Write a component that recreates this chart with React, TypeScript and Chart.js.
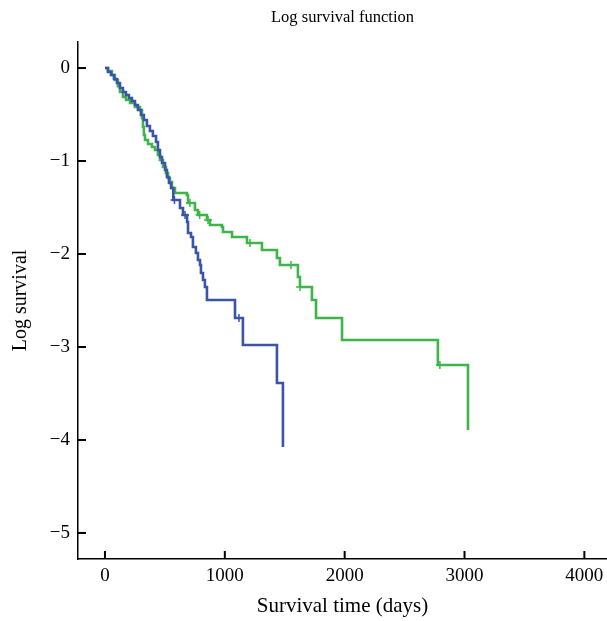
import React, { useEffect, useRef } from "react";
import { Chart, registerables } from "chart.js";

Chart.register(...registerables);

const chartTitle = "Log survival function";
const xTitle = "Survival time (days)";
const yTitle = "Log survival";

const xTicks = [0, 1000, 2000, 3000, 4000];
const yTicks = [0, -1, -2, -3, -4, -5];

// Blue group: step times (days) and log survival after each step
const blueTimes = [0, 25, 50, 75, 100, 125, 150, 175, 200, 225, 250, 275, 300, 325, 350, 375, 400, 426, 442, 459, 476, 501, 517, 534, 551, 570, 626, 651, 685, 693, 718, 734, 759, 776, 793, 801, 818, 834, 851, 1085, 1151, 1435, 1485];
const blueLogSurv = [0, -0.043, -0.075, -0.118, -0.161, -0.215, -0.258, -0.29, -0.323, -0.355, -0.398, -0.452, -0.505, -0.559, -0.624, -0.677, -0.731, -0.796, -0.882, -0.957, -1.022, -1.097, -1.172, -1.237, -1.29, -1.419, -1.505, -1.581, -1.656, -1.774, -1.817, -1.925, -1.989, -2.065, -2.118, -2.204, -2.28, -2.355, -2.495, -2.688, -2.978, -3.387, -4.075];
const blueCensorTimes = [580, 668, 1118];
const blueCensorLogSurv = [-1.419, -1.581, -2.688];

// Green group
const greenTimes = [0, 25, 58, 83, 108, 125, 150, 175, 209, 250, 292, 309, 317, 325, 334, 359, 392, 417, 442, 459, 484, 509, 526, 542, 559, 584, 684, 693, 751, 776, 851, 876, 976, 985, 1060, 1185, 1310, 1435, 1460, 1610, 1627, 1727, 1761, 1978, 2778, 3029];
const greenLogSurv = [0, -0.032, -0.075, -0.129, -0.194, -0.258, -0.312, -0.344, -0.376, -0.419, -0.452, -0.538, -0.634, -0.72, -0.774, -0.817, -0.849, -0.882, -0.935, -0.989, -1.065, -1.129, -1.183, -1.226, -1.29, -1.344, -1.366, -1.452, -1.527, -1.581, -1.634, -1.688, -1.71, -1.763, -1.817, -1.882, -1.957, -2.043, -2.118, -2.247, -2.355, -2.495, -2.688, -2.925, -3.194, -3.892];
const greenCensorTimes = [709, 790, 860, 1210, 1552, 1627, 2795];
const greenCensorLogSurv = [-1.452, -1.581, -1.634, -1.882, -2.118, -2.355, -3.194];

const BLUE = "#3a55a6";
const GREEN = "#3db54a";
const FONT = "'Liberation Serif', 'Times New Roman', serif";

const toPts = (xs: number[], ys: number[]) => xs.map((x, i) => ({ x, y: ys[i] }));
const fmt = (v: number) => (v < 0 ? "\u2212" + Math.abs(v) : String(v));

const decorPlugin = {
  id: "decor",
  afterDraw(chart: any) {
    const { ctx, chartArea, scales } = chart;
    ctx.save();
    ctx.strokeStyle = "#000";
    ctx.lineWidth = 2;
    xTicks.forEach((v) => {
      const x = scales.x.getPixelForValue(v);
      ctx.beginPath();
      ctx.moveTo(x, chartArea.bottom);
      ctx.lineTo(x, chartArea.bottom - 8);
      ctx.stroke();
    });
    yTicks.forEach((v) => {
      const y = scales.y.getPixelForValue(v);
      ctx.beginPath();
      ctx.moveTo(chartArea.left, y);
      ctx.lineTo(chartArea.left + 8, y);
      ctx.stroke();
    });
    ctx.fillStyle = "#000";
    ctx.font = `16.5px ${FONT}`;
    ctx.textAlign = "center";
    ctx.textBaseline = "middle";
    ctx.fillText(chartTitle, (chartArea.left + chartArea.right) / 2, 18);
    ctx.restore();
  },
};

export default function App() {
  const ref = useRef<HTMLCanvasElement | null>(null);
  useEffect(() => {
    if (!ref.current) return;
    const chart = new Chart(ref.current, {
      type: "line",
      data: {
        datasets: [
          {
            data: toPts(blueTimes, blueLogSurv),
            borderColor: BLUE,
            borderWidth: 2.6,
            stepped: "before",
            pointRadius: 0,
            fill: false,
          },
          {
            data: toPts(greenTimes, greenLogSurv),
            borderColor: GREEN,
            borderWidth: 2.6,
            stepped: "before",
            pointRadius: 0,
            fill: false,
          },
          {
            data: toPts(blueCensorTimes, blueCensorLogSurv),
            borderColor: BLUE,
            backgroundColor: BLUE,
            showLine: false,
            pointStyle: "cross",
            pointRadius: 4,
            pointBorderWidth: 1.5,
          },
          {
            data: toPts(greenCensorTimes, greenCensorLogSurv),
            borderColor: GREEN,
            backgroundColor: GREEN,
            showLine: false,
            pointStyle: "cross",
            pointRadius: 4,
            pointBorderWidth: 1.5,
          },
        ],
      },
      options: {
        animation: false,
        responsive: false,
        layout: { autoPadding: false, padding: { top: 42, left: 0, right: 0, bottom: 0 } },
        plugins: { legend: { display: false }, tooltip: { enabled: false }, title: { display: false } },
        scales: {
          x: {
            type: "linear",
            min: -225,
            max: 4189,
            grid: { display: false, drawTicks: false },
            border: { display: true, color: "#000", width: 1.5 },
            afterBuildTicks: (s: any) => {
              s.ticks = xTicks.map((v) => ({ value: v }));
            },
            afterFit: (s: any) => {
              s.height = 62;
              s.paddingLeft = 0;
              s.paddingRight = 0;
            },
            ticks: {
              color: "#000",
              font: { family: FONT, size: 19 },
              padding: 6,
              maxRotation: 0,
              callback: (v: any) => fmt(Number(v)),
            },
            title: {
              display: true,
              text: xTitle,
              color: "#000",
              font: { family: FONT, size: 21 },
              padding: { top: 0, bottom: 2 },
            },
          },
          y: {
            type: "linear",
            min: -5.28,
            max: 0.28,
            grid: { display: false, drawTicks: false },
            border: { display: true, color: "#000", width: 1.5 },
            afterBuildTicks: (s: any) => {
              s.ticks = yTicks.map((v) => ({ value: v }));
            },
            afterFit: (s: any) => {
              s.width = 78;
              s.paddingTop = 0;
              s.paddingBottom = 0;
            },
            ticks: {
              color: "#000",
              font: { family: FONT, size: 19 },
              padding: 8,
              callback: (v: any) => fmt(Number(v)),
            },
            title: {
              display: true,
              text: yTitle,
              color: "#000",
              font: { family: FONT, size: 20 },
              padding: { top: 9, bottom: 0 },
            },
          },
        },
      },
      plugins: [decorPlugin],
    } as any);
    return () => chart.destroy();
  }, []);
  return (
    <div style={{ position: "absolute", left: 0, top: 0, width: 607, height: 621 }}>
      <canvas ref={ref} width={607} height={621} style={{ display: "block" }} />
    </div>
  );
}
